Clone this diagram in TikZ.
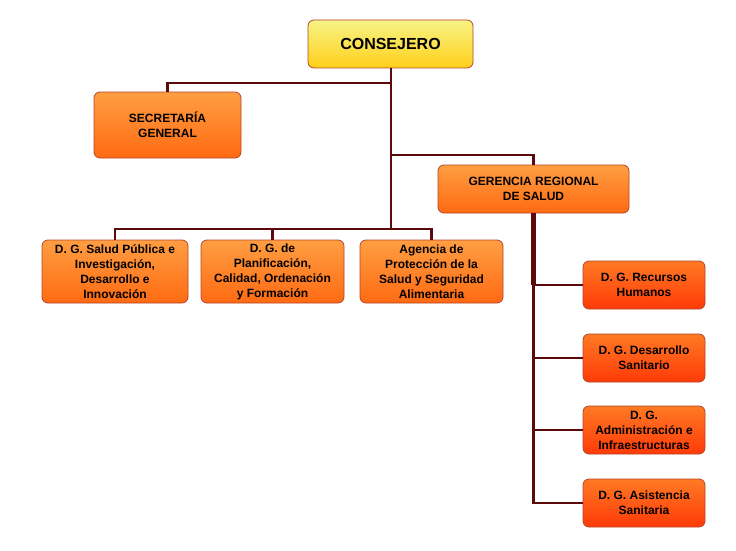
\documentclass[tikz,border=0pt]{standalone}
\usepackage{fontspec}
\setmainfont{Liberation Sans}
\begin{document}
\begin{tikzpicture}[x=1pt,y=-1pt,
  box/.style={draw=bordc, line width=0.8pt, rounded corners=6pt, align=center,
     font=\fontsize{12}{15}\selectfont\bfseries, inner sep=0pt},
  yel/.style={box, top color=consT, bottom color=consB},
  org/.style={box, top color=orgT, bottom color=orgB},
  red/.style={box, top color=redT, bottom color=redB},
  conn/.style={draw=linec, line width=2.6pt},
]
\definecolor{bordc}{HTML}{B5452B}
\definecolor{consT}{HTML}{F7F385}
\definecolor{consB}{HTML}{FFD01A}
\definecolor{orgT}{HTML}{FF9E42}
\definecolor{orgB}{HTML}{FF6A12}
\definecolor{redT}{HTML}{FF7A24}
\definecolor{redB}{HTML}{FF3A08}
\definecolor{linec}{HTML}{5C0A0A}
\useasboundingbox[fill=white] (0,0) rectangle (736,551);

\node[yel, minimum width=165pt, minimum height=48pt, font=\fontsize{16}{18}\selectfont\bfseries] (cons) at (390.5,44) {CONSEJERO};
\node[org, minimum width=147pt, minimum height=66pt] (sec) at (167.5,125) {SECRETARÍA\\GENERAL};
\node[org, minimum width=191pt, minimum height=48pt] (ger) at (533.5,189) {GERENCIA REGIONAL\\DE SALUD};

\node[org, minimum width=146pt, minimum height=63pt] (d1) at (115,271.5) {D. G. Salud Pública e\\Investigación,\\Desarrollo e\\Innovación};
\node[org, minimum width=143pt, minimum height=63pt] (d2) at (272.5,271.5) {D. G. de\\Planificación,\\Calidad, Ordenación\\y Formación};
\node[org, minimum width=143pt, minimum height=63pt] (d3) at (431.5,271.5) {Agencia de\\Protección de la\\Salud y Seguridad\\Alimentaria};

\node[red, minimum width=122pt, minimum height=48pt] (r1) at (644,285) {D. G. Recursos\\Humanos};
\node[red, minimum width=122pt, minimum height=48pt] (r2) at (644,358) {D. G. Desarrollo\\Sanitario};
\node[red, minimum width=122pt, minimum height=48pt] (r3) at (644,430) {D. G.\\Administración e\\Infraestructuras};
\node[red, minimum width=122pt, minimum height=48pt] (r4) at (644,503) {D. G. Asistencia\\Sanitaria};

\coordinate (j) at (391,229);
\coordinate (b1) at (391,83);
\coordinate (b2) at (391,155);

\begin{scope}[on background layer/.style={}]
\draw[conn] (b1) -| (sec.north);
\draw[conn] (b2) -| (ger.north);
\draw[conn] (d1.north) |- (d3.north |- j) -- (d3.north);
\draw[conn] (d2.north) -- (d2.north |- j);
\draw[conn] (cons.south -| j) -- (j);
\draw[conn] (ger.south) -- (ger.south |- r4.west) -- (r4.west);
\draw[conn, line width=5pt] (ger.south) -- (ger.south |- r1.west);
\draw[conn] (ger.south |- r1.west) -- (r1.west);
\draw[conn] (ger.south |- r2.west) -- (r2.west);
\draw[conn] (ger.south |- r3.west) -- (r3.west);
\end{scope}
\end{tikzpicture}
\end{document}
